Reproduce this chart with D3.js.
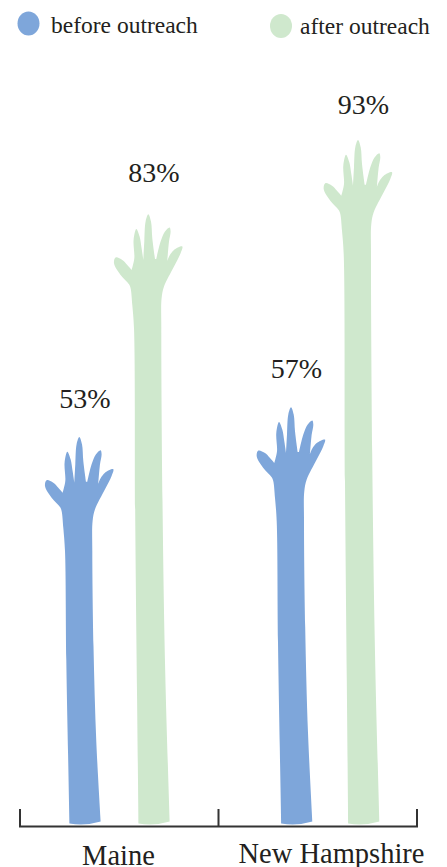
<!DOCTYPE html>
<html><head><meta charset="utf-8">
<script src="https://cdn.jsdelivr.net/npm/d3@7"></script>
<style>html,body{margin:0;padding:0;background:#fff}svg{display:block}text{font-family:"Liberation Serif",serif;fill:#231f20}</style>
</head><body><svg id="c" width="447" height="867"></svg>
<script>
const categories = ["Maine", "New Hampshire"];
const seriesNames = ["before outreach", "after outreach"];
const beforeValues = [53, 57];
const afterValues = [83, 93];
const colors = ["#7ea6da", "#cfe8cd"];

const svg = d3.select("#c");
const y = d3.scaleLinear().domain([0, 100]).range([830.5, 88]);
const baseY = 823.5;
const axisX = d3.scalePoint().domain(categories.concat("end")).range([20, 417]);
const groupX = d3.scaleOrdinal().domain(categories).range([79.3, 291]);
const seriesX = d3.scaleOrdinal().domain(seriesNames).range([0, 69]);

// hand silhouette, relative to fingertip; valleys are doubled to stay sharp
const hand = [[-16,90.7],[-17.7,74],[-19.3,70],[-27.7,60.7],[-34.3,49],[-32.7,43.3],[-26,45.7],[-21,50.7],[-16.7,55.7],[-16.7,55.7],
  [-14,44],[-14.7,25.7],[-12,14.7],[-8.7,22.3],[-6.7,34],[-5,45.7],[-5,45.7],
  [-4,27.3],[-2.7,7.3],[0,0],[2.7,7.3],[4,24],[6.7,44.7],[6.7,44.7],[8,44.7],[8,44.7],
  [12.3,27.3],[16.7,17.3],[21.3,13.3],[22.3,17.3],[20.7,27.3],[19,46.7],[19,46.7],
  [21.3,41.3],[25.7,35.7],[34,32.3],[32.3,39],[25.7,52.3],[15.7,72.3],[13.3,84],[13,114]];
const wristDrop = 114;
// arm below the wrist: [fraction from wrist to base, dx]
const armLeft = [[1,-9.8],[0.75,-11.2],[0.4,-13],[0,-14.3]];
const armRight = [[0.35,14.2],[0.7,17],[1,21.4]];

function handPath(cx, tipY) {
  const wrist = tipY + wristDrop, len = baseY - wrist;
  const pts = armLeft.map(a => [cx + a[1], wrist + a[0] * len]);
  hand.forEach(p => pts.push([cx + p[0], tipY + p[1]]));
  armRight.forEach(a => pts.push([cx + a[1], wrist + a[0] * len - (a[0] === 1 ? 2 : 0)]));
  const outline = d3.line().curve(d3.curveCatmullRom.alpha(0.5))(pts);
  return outline + `Q${cx + 6},${baseY + 2.6} ${cx - 9.8},${baseY}Z`;
}

const labelShift = {53: -29, 57: -29, 83: -32, 93: -26};

const rows = [];
categories.forEach((c, i) => {
  rows.push({c, s: seriesNames[0], v: beforeValues[i], col: colors[0]});
  rows.push({c, s: seriesNames[1], v: afterValues[i], col: colors[1]});
});

rows.forEach(d => {
  const cx = groupX(d.c) + seriesX(d.s) - (d.c === categories[1] && d.s === seriesNames[1] ? 2 : 0);
  svg.append("path").attr("d", handPath(cx, y(d.v))).attr("fill", d.col);
  svg.append("text").attr("x", cx + 5.5).attr("y", y(d.v) + labelShift[d.v])
    .attr("text-anchor", "middle").attr("font-size", 28).text(d.v + "%");
});

// axis
const axisY = 826.5;
svg.append("path")
  .attr("d", `M${axisX("Maine")},809V${axisY}H${axisX("end")}V809M${axisX("New Hampshire")},809V${axisY}`)
  .attr("fill", "none").attr("stroke", "#333").attr("stroke-width", 2);
svg.append("text").attr("x", 118.5).attr("y", 864.5).attr("text-anchor", "middle").attr("font-size", 28.5).text(categories[0]);
svg.append("text").attr("x", 331.5).attr("y", 862.5).attr("text-anchor", "middle").attr("font-size", 28.5).text(categories[1]);

// legend
const legend = [{cx:28.5, cy:23.5, tx:51, ty:33},{cx:281, cy:26, tx:300, ty:34}];
legend.forEach((l, i) => {
  svg.append("ellipse").attr("cx", l.cx).attr("cy", l.cy).attr("rx", 11).attr("ry", 12).attr("fill", colors[i]);
  svg.append("text").attr("x", l.tx).attr("y", l.ty).attr("font-size", 23.5).text(seriesNames[i]);
});
</script></body></html>
